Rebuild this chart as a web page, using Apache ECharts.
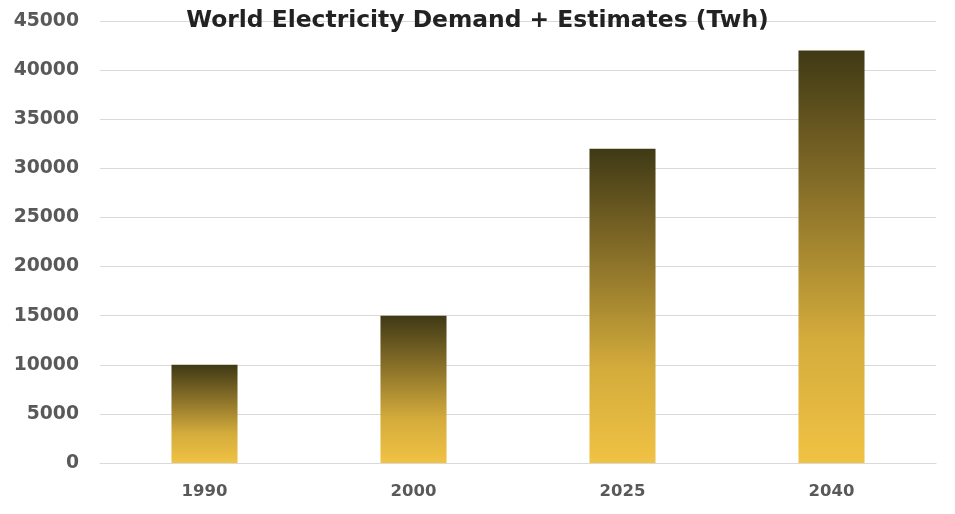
<!DOCTYPE html>
<html><head><meta charset="utf-8">
<script src="https://cdn.jsdelivr.net/npm/echarts@6/dist/echarts.min.js"></script>
<style>html,body{margin:0;padding:0;background:#fff}#c{width:955px;height:514px}</style>
</head><body><div id="c"></div>
<script>
const categories = ['1990', '2000', '2025', '2040'];
const demand = [10000, 15000, 32000, 42000];
const yTicks = { min: 0, max: 45000, interval: 5000 };
const titleText = 'World Electricity Demand + Estimates (Twh)';

const chart = echarts.init(document.getElementById('c'));
chart.setOption({
  backgroundColor: '#fff',
  animation: false,
  title: {
    text: titleText, left: 'center', top: 9, padding: 0,
    textStyle: { fontFamily: 'DejaVu Sans', fontWeight: 'bold', fontSize: 23.4, color: '#222' }
  },
  grid: { left: 100, right: 19, top: 21, bottom: 51 },
  xAxis: {
    type: 'category', data: categories,
    axisLine: { lineStyle: { color: '#d9d9d9' } },
    axisTick: { show: false },
    axisLabel: { color: '#595959', fontFamily: 'DejaVu Sans', fontWeight: 'bold', fontSize: 16.5, margin: 20 }
  },
  yAxis: {
    type: 'value', min: yTicks.min, max: yTicks.max, interval: yTicks.interval,
    splitLine: { lineStyle: { color: '#d9d9d9' } },
    axisLabel: { color: '#595959', fontFamily: 'DejaVu Sans', fontWeight: 'bold', fontSize: 18.8, margin: 21,
      formatter: v => String(v) }
  },
  series: [{
    type: 'bar', data: demand, barWidth: '31.6%', z: 3,
    itemStyle: {
      color: new echarts.graphic.LinearGradient(0, 0, 0, 1, [
        { offset: 0, color: '#3f3915' },
        { offset: 0.35, color: '#8a7129' },
        { offset: 0.7, color: '#d4ac3c' },
        { offset: 1, color: '#f0c244' }
      ])
    }
  }]
});
</script></body></html>
